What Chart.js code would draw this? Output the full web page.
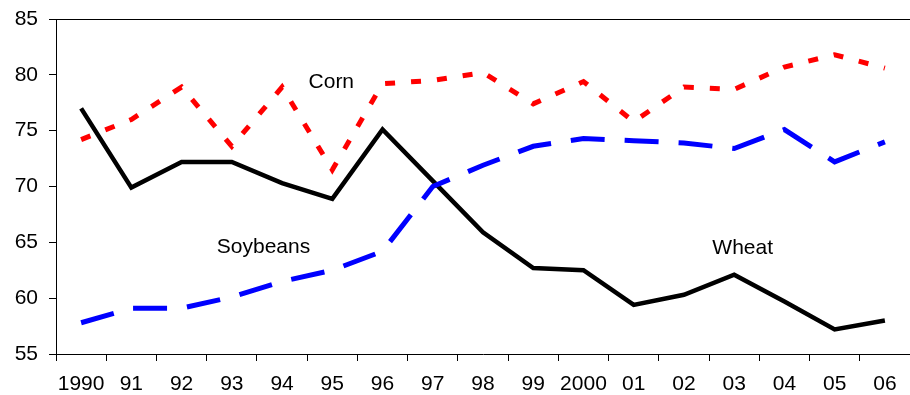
<!DOCTYPE html>
<html>
<head>
<meta charset="utf-8">
<script src="https://cdn.jsdelivr.net/npm/chart.js@4.4.0/dist/chart.umd.min.js"></script>
<style>
html,body{margin:0;padding:0;background:#fff;}
#wrap{width:910px;height:395px;position:relative;}
</style>
</head>
<body>
<div id="wrap"><canvas id="c" width="910" height="395"></canvas></div>
<script>
const categories = ['1990','91','92','93','94','95','96','97','98','99','2000','01','02','03','04','05','06'];
const corn = [74.2, 76.0, 78.9, 73.6, 78.9, 71.5, 79.2, 79.5, 80.2, 77.4, 79.4, 75.8, 78.9, 78.7, 80.7, 81.8, 80.6];
const soybeans = [57.8, 59.1, 59.1, 60.1, 61.5, 62.5, 64.2, 70.0, 71.9, 73.6, 74.3, 74.1, 73.9, 73.4, 75.1, 72.2, 74.0];
const wheat = [77.0, 69.9, 72.2, 72.2, 70.3, 68.9, 75.1, 70.5, 65.9, 62.7, 62.5, 59.4, 60.3, 62.1, 59.7, 57.2, 58.0];
const yTicks = [55, 60, 65, 70, 75, 80, 85];
const labelTexts = ['Corn', 'Soybeans', 'Wheat'];
const labelX = [4.98, 3.63, 13.17];
const labelY = [79.35, 64.6, 64.5];

const FONT = "'Liberation Sans', Arial, sans-serif";

const extras = {
  id: 'extras',
  afterDatasetsDraw(chart) {
    const ctx = chart.ctx, a = chart.chartArea;
    const xs = chart.scales.x, ys = chart.scales.y;
    ctx.save();
    ctx.strokeStyle = '#000';
    ctx.lineWidth = 1;
    ctx.beginPath();
    ctx.moveTo(a.left, a.top + 0.5);
    ctx.lineTo(a.right, a.top + 0.5);
    ctx.stroke();
    ctx.fillStyle = '#000';
    ctx.font = '21px ' + FONT;
    ctx.textAlign = 'center';
    ctx.textBaseline = 'middle';
    labelTexts.forEach((t, i) => {
      ctx.fillText(t, xs.getPixelForValue(labelX[i]), ys.getPixelForValue(labelY[i]));
    });
    ctx.restore();
  }
};

new Chart(document.getElementById('c'), {
  type: 'line',
  data: {
    labels: categories,
    datasets: [
      { label: 'Corn', data: corn, borderColor: '#ff0000', borderWidth: 5, borderDash: [10, 16], pointRadius: 0, tension: 0, fill: false },
      { label: 'Soybeans', data: soybeans, borderColor: '#0000ff', borderWidth: 5, borderDash: [34, 20], pointRadius: 0, tension: 0, fill: false },
      { label: 'Wheat', data: wheat, borderColor: '#000000', borderWidth: 4.5, pointRadius: 0, tension: 0, fill: false }
    ]
  },
  options: {
    responsive: false,
    animation: false,
    events: [],
    layout: { padding: { top: 19, left: 0, right: 0, bottom: 0 } },
    plugins: { legend: { display: false }, tooltip: { enabled: false } },
    scales: {
      x: {
        type: 'category',
        offset: true,
        grid: { offset: true, drawOnChartArea: false, drawTicks: true, tickLength: 7, color: '#000' },
        border: { display: true, color: '#000', width: 1 },
        ticks: { color: '#000', font: { family: FONT, size: 21, lineHeight: 1 }, padding: 13, maxRotation: 0, autoSkip: false },
        afterFit(s) { s.height = 41; s.paddingLeft = 0; s.paddingRight = 0; }
      },
      y: {
        min: 55, max: 85,
        afterBuildTicks(s) { s.ticks = yTicks.map(v => ({ value: v })); },
        grid: { drawOnChartArea: false, drawTicks: true, tickLength: 7, color: '#000' },
        border: { display: true, color: '#000', width: 1 },
        ticks: { color: '#000', font: { family: FONT, size: 21 }, padding: 11 },
        afterFit(s) { s.width = 56; s.paddingTop = 0; s.paddingBottom = 0; }
      }
    }
  },
  plugins: [extras]
});
</script>
</body>
</html>
